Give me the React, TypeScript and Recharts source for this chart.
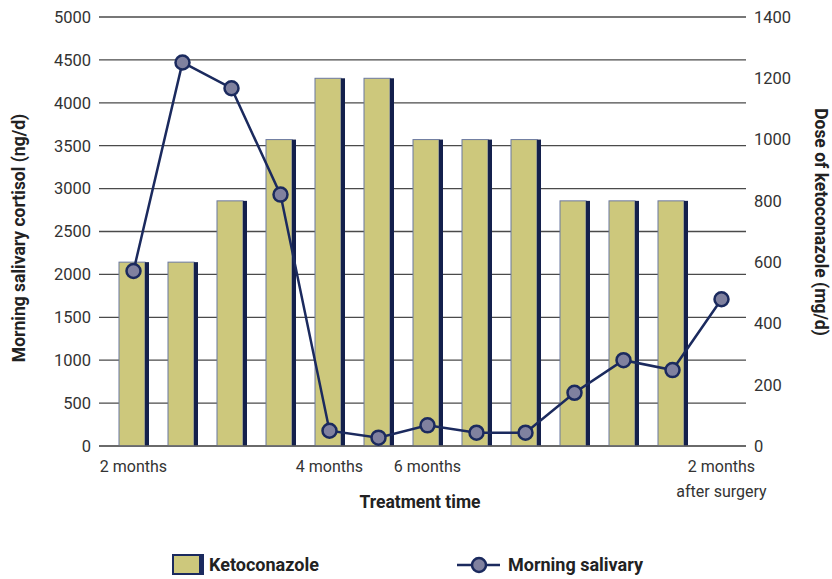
import React from 'react';
import { ComposedChart, Bar, Line, XAxis, YAxis, CartesianGrid, Legend } from 'recharts';

const months = ['2 months', '', '', '', '4 months', '', '6 months', '', '', '', '', '', '2 months|after surgery'];
const ketoconazole = [600, 600, 800, 1000, 1200, 1200, 1000, 1000, 1000, 800, 800, 800, null];
const salivary = [2040, 4470, 4170, 2930, 178, 97, 241, 155, 155, 620, 1000, 885, 1710];
const leftTicks = [0, 500, 1000, 1500, 2000, 2500, 3000, 3500, 4000, 4500, 5000];
const rightTicks = [0, 200, 400, 600, 800, 1000, 1200, 1400];

const NAVY = '#1b2a5e';
const KHAKI = '#cdc87c';
const FONT = 'Roboto, "Liberation Sans", sans-serif';

const data = months.map((m, i) => ({
  id: i,
  month: m,
  ketoconazole: ketoconazole[i],
  salivary: salivary[i],
}));

// khaki bar with a dark stripe down the right side
function ShadedBar(props: any) {
  const { x, y, width, height } = props;
  if (!height || height <= 0) return null;
  return (
    <g>
      <rect x={x} y={y} width={width - 4} height={height} fill={KHAKI} stroke="#6b78a0" strokeWidth={1} />
      <rect x={x + width - 4} y={y} width={4} height={height} fill="#14204c" />
    </g>
  );
}

function MonthTick(props: any) {
  const { x, y, payload } = props;
  const label = months[payload.value] || '';
  const lines = label.split('|');
  return (
    <text x={x} y={y + 18} textAnchor="middle" fontFamily={FONT} fontSize={16} fill="#333">
      {lines.map((l: string, i: number) => (
        <tspan key={i} x={x} dy={i === 0 ? 0 : 25}>{l}</tspan>
      ))}
    </text>
  );
}

function LegendBox() {
  return (
    <div style={{ position: 'relative', width: 832, height: 30, fontFamily: FONT }}>
      <svg width={832} height={30} style={{ position: 'absolute', left: 0, top: 0 }}>
        <rect x={173} y={10} width={30} height={19} fill={KHAKI} stroke={NAVY} strokeWidth={2} />
        <rect x={199} y={10} width={4} height={19} fill={NAVY} />
        <text x={209} y={26} fontFamily={FONT} fontWeight="bold" fontSize={18} fill="#222">Ketoconazole</text>
        <line x1={457} y1={20} x2={500} y2={20} stroke={NAVY} strokeWidth={2.5} />
        <circle cx={479} cy={20} r={7} fill="#80819f" stroke={NAVY} strokeWidth={2.5} />
        <text x={508} y={26} fontFamily={FONT} fontWeight="bold" fontSize={18} fill="#222">Morning salivary</text>
      </svg>
    </div>
  );
}

export default function App() {
  return (
    <div style={{ position: 'absolute', left: 0, top: 0, width: 832, height: 579, background: '#fff' }}>
      <ComposedChart width={832} height={579} data={data} margin={{ top: 17, right: 0, bottom: 0, left: 0 }}>
        <CartesianGrid yAxisId="left" vertical={false} stroke="#4a4a4a" strokeWidth={1.3} />
        <XAxis
          dataKey="id"
          height={103}
          padding={{ left: 10, right: 0 }}
          tickLine={false}
          axisLine={{ stroke: '#666', strokeWidth: 1.5 }}
          interval={0}
          tick={<MonthTick />}
          label={{
            content: ({ viewBox }: any) => (
              <text x={420} y={viewBox.y + 62} textAnchor="middle" fontFamily={FONT} fontWeight="bold" fontSize={17.5} fill="#222">
                Treatment time
              </text>
            ),
          }}
        />
        <YAxis
          yAxisId="left"
          width={99}
          domain={[0, 5000]}
          ticks={leftTicks}
          tickLine={false}
          axisLine={false}
          tick={{ fontFamily: FONT, fontSize: 16.5, fill: '#333' }}
          label={{
            content: () => (
              <text x={25} y={238} transform="rotate(-90 25 238)" textAnchor="middle" fontFamily={FONT} fontWeight="bold" fontSize={17.5} fill="#222">
                Morning salivary cortisol (ng/d)
              </text>
            ),
          }}
        />
        <YAxis
          yAxisId="right"
          orientation="right"
          width={86}
          domain={[0, 1400]}
          ticks={rightTicks}
          tickLine={false}
          axisLine={false}
          tick={{ fontFamily: FONT, fontSize: 16.5, fill: '#333', textAnchor: 'start' }}
          label={{
            content: () => (
              <text x={815} y={222} transform="rotate(90 815 222)" textAnchor="middle" fontFamily={FONT} fontWeight="bold" fontSize={17.5} fill="#222">
                Dose of ketoconazole (mg/d)
              </text>
            ),
          }}
        />
        <Bar yAxisId="right" dataKey="ketoconazole" name="Ketoconazole" barSize={30} shape={<ShadedBar />} isAnimationActive={false} />
        <Line
          yAxisId="left"
          dataKey="salivary"
          name="Morning salivary"
          type="linear"
          stroke={NAVY}
          strokeWidth={2.5}
          dot={{ r: 7, fill: '#80819f', stroke: NAVY, strokeWidth: 2.5 }}
          isAnimationActive={false}
        />
        <Legend
          layout="vertical"
          align="center"
          verticalAlign="bottom"
          wrapperStyle={{ left: 0, top: 545, bottom: 'auto', width: 832 }}
          content={() => <LegendBox />}
        />
      </ComposedChart>
    </div>
  );
}
